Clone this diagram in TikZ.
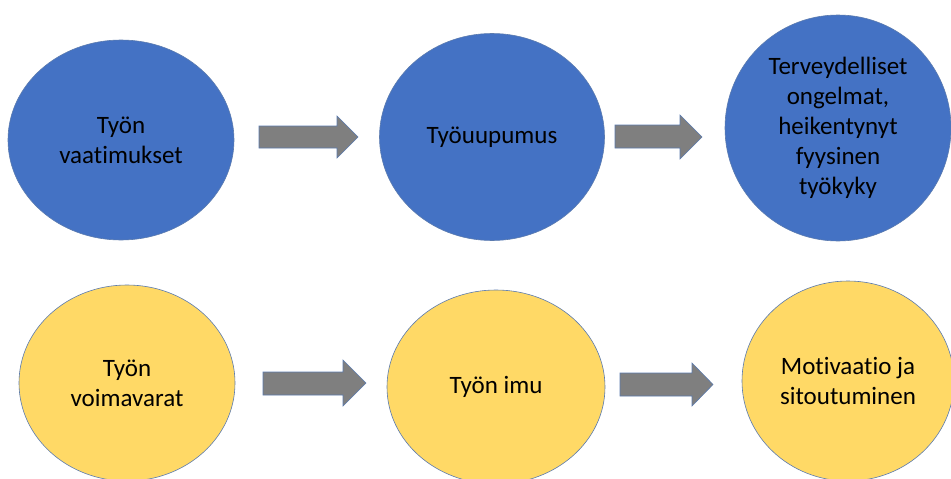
\documentclass[tikz,border=0pt]{standalone}
\usepackage{fontspec}
\setmainfont[Ligatures={NoCommon}]{Carlito}
\usetikzlibrary{shapes.geometric}
\definecolor{blueFill}{HTML}{4472C4}
\definecolor{yellowFill}{HTML}{FFD966}
\definecolor{edgeBlue}{HTML}{5B7BAF}
\definecolor{arrowGray}{HTML}{7F7F7F}
\tikzset{
  bubble/.style={ellipse, inner sep=0pt, align=center, draw=edgeBlue, line width=0.6pt,
    font=\fontsize{25}{30}\selectfont, text=black},
  bluebubble/.style={bubble, fill=blueFill},
  yellowbubble/.style={bubble, fill=yellowFill},
  blockarrow/.style={fill=arrowGray, draw=edgeBlue, line width=0.6pt, line join=miter}
}
\newcommand{\blockarr}[7]{% x0 x1 tip ytop ybot headtop headbot
  \draw[blockarrow] (#1,#4) -- (#2,#4) -- (#2,#6) -- (#3,{(#6+#7)/2}) -- (#2,#7) -- (#2,#5) -- (#1,#5) -- cycle;}
\begin{document}
\begin{tikzpicture}[x=1pt,y=-1pt]
\useasboundingbox (0,0) rectangle (951,479);
\clip (0,0) rectangle (951,479);
\fill[white] (0,0) rectangle (951,479);
% top row
\node[bluebubble, minimum width=226pt, minimum height=200pt] (demands) at (121,140) {Työn\\vaatimukset};
\node[bluebubble, minimum width=225pt, minimum height=207pt] (burnout) at (492,137) {Työuupumus};
\node[bluebubble, minimum width=226pt, minimum height=226pt] (health) at (838,128) {Terveydelliset\\ongelmat,\\heikentynyt\\fyysinen\\työkyky};
% bottom row
\node[yellowbubble, minimum width=216pt, minimum height=196pt] (resources) at (127,383) {Työn\\voimavarat};
\node[yellowbubble, minimum width=218pt, minimum height=194pt] (engage) at (496,387) {Työn imu};
\node[yellowbubble, minimum width=212pt, minimum height=200pt] (motiv) at (848,381) {Motivaatio ja\\sitoutuminen};
% block arrows
\blockarr{259}{337}{358}{126}{148}{116}{158}
\blockarr{615}{680}{702}{125}{148}{115}{159}
\blockarr{263}{343}{366}{372}{395}{360}{406}
\blockarr{620}{692}{713}{373}{396}{363}{406}
\end{tikzpicture}
\end{document}
